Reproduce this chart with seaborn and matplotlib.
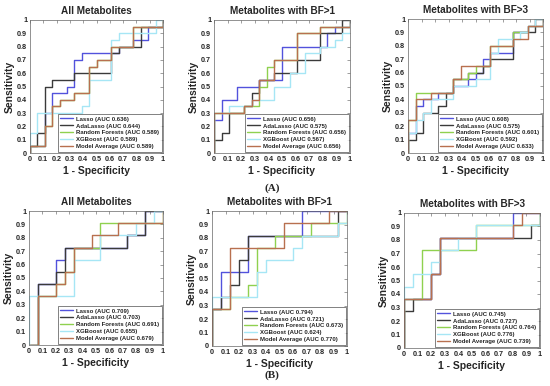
import matplotlib
matplotlib.use("Agg")
import matplotlib.pyplot as plt
import seaborn as sns
import pandas as pd

# Models, colours and panel text
MODELS = ["Lasso", "AdaLasso", "Random Forests", "XGBoost", "Model Average"]
COLORS = ["#5252dc", "#3a3a3a", "#8fd14f", "#a6e6f5", "#b8704f"]
TITLES = ["All Metabolites", "Metabolites with BF>1", "Metabolites with BF>3"]
TICKS = [0, 0.1, 0.2, 0.3, 0.4, 0.5, 0.6, 0.7, 0.8, 0.9, 1]
TICK_LABELS = ["0", "0.1", "0.2", "0.3", "0.4", "0.5", "0.6", "0.7", "0.8", "0.9", "1"]

# AUC values (legend)
AUC_A_ALL = [0.636, 0.644, 0.589, 0.589, 0.589]
AUC_A_BF1 = [0.656, 0.575, 0.656, 0.567, 0.656]
AUC_A_BF3 = [0.608, 0.575, 0.601, 0.592, 0.633]
AUC_B_ALL = [0.709, 0.703, 0.691, 0.655, 0.679]
AUC_B_BF1 = [0.794, 0.721, 0.673, 0.624, 0.770]
AUC_B_BF3 = [0.745, 0.727, 0.764, 0.776, 0.739]

# ROC corners (fpr, tpr): tpr rises to the value at that fpr, then runs right
# (A) All metabolites
A_ALL_LASSO = ([0, 0, 0.111, 0.167, 0.278, 0.333, 0.389, 0.667, 0.778, 0.889, 1],
               [0, 0.05, 0.3, 0.45, 0.5, 0.7, 0.75, 0.8, 0.85, 0.95, 1])
A_ALL_ADA = ([0, 0, 0.056, 0.111, 0.167, 0.333, 0.611, 0.667, 0.778, 0.833, 1],
             [0, 0.05, 0.15, 0.5, 0.55, 0.6, 0.75, 0.8, 0.8, 0.95, 1])
A_ALL_RF = ([0, 0, 0.111, 0.167, 0.222, 0.333, 0.444, 0.5, 0.611, 0.778, 1],
            [0, 0.05, 0.2, 0.35, 0.4, 0.45, 0.65, 0.7, 0.8, 0.95, 1])
A_ALL_XGB = ([0, 0, 0.056, 0.389, 0.444, 0.611, 0.667, 0.944, 1],
             [0, 0.15, 0.3, 0.35, 0.55, 0.85, 0.9, 1, 1])
A_ALL_AVG = ([0, 0, 0.111, 0.167, 0.222, 0.333, 0.444, 0.5, 0.611, 0.778, 1],
             [0, 0.05, 0.2, 0.35, 0.4, 0.45, 0.65, 0.7, 0.8, 0.95, 1])

# (A) BF>1
A_BF1_LASSO = ([0, 0, 0.056, 0.167, 0.333, 0.5, 0.833, 0.889, 1],
               [0, 0.25, 0.4, 0.5, 0.55, 0.8, 0.9, 0.95, 1])
A_BF1_ADA = ([0, 0, 0.056, 0.111, 0.222, 0.278, 0.333, 0.444, 0.611, 0.778, 0.944, 1],
             [0, 0.1, 0.15, 0.3, 0.35, 0.45, 0.55, 0.6, 0.7, 0.9, 1, 1])
A_BF1_RF = ([0, 0, 0.222, 0.333, 0.389, 0.444, 0.611, 0.778, 1],
            [0, 0.3, 0.35, 0.5, 0.65, 0.7, 0.9, 0.95, 1])
A_BF1_XGB = ([0, 0, 0.111, 0.278, 0.444, 0.556, 0.667, 0.778, 0.889, 0.944, 1],
             [0, 0.3, 0.35, 0.4, 0.5, 0.6, 0.75, 0.8, 0.85, 0.9, 1])
A_BF1_AVG = ([0, 0, 0.222, 0.278, 0.333, 0.444, 0.611, 0.778, 1],
             [0, 0.3, 0.35, 0.4, 0.55, 0.7, 0.9, 0.95, 1])

# (A) BF>3
A_BF3_LASSO = ([0, 0, 0.056, 0.111, 0.222, 0.333, 0.444, 0.5, 0.556, 0.611, 0.778, 0.889, 1],
               [0, 0.15, 0.35, 0.4, 0.45, 0.5, 0.55, 0.6, 0.7, 0.75, 0.9, 0.95, 1])
A_BF3_ADA = ([0, 0, 0.056, 0.111, 0.222, 0.278, 0.333, 0.444, 0.556, 0.611, 0.778, 0.944, 1],
             [0, 0.1, 0.15, 0.3, 0.35, 0.45, 0.55, 0.6, 0.65, 0.7, 0.9, 1, 1])
A_BF3_RF = ([0, 0, 0.056, 0.333, 0.444, 0.5, 0.611, 0.778, 0.889, 1],
            [0, 0.25, 0.45, 0.55, 0.6, 0.65, 0.8, 0.9, 0.95, 1])
A_BF3_XGB = ([0, 0, 0.056, 0.111, 0.167, 0.333, 0.5, 0.611, 0.667, 0.833, 0.889, 0.944, 1],
             [0, 0.15, 0.25, 0.3, 0.4, 0.5, 0.55, 0.75, 0.85, 0.9, 0.95, 1, 1])
A_BF3_AVG = ([0, 0, 0.056, 0.167, 0.333, 0.389, 0.611, 0.778, 0.889, 1],
             [0, 0.25, 0.4, 0.45, 0.55, 0.65, 0.8, 0.85, 0.95, 1])

# (B) All metabolites
B_ALL_LASSO = ([0, 0.067, 0.2, 0.267, 0.733, 0.867, 1],
               [0, 0.455, 0.636, 0.727, 0.818, 1, 1])
B_ALL_ADA = ([0, 0.067, 0.2, 0.267, 0.733, 0.867, 1],
             [0, 0.455, 0.545, 0.727, 0.818, 1, 1])
B_ALL_RF = ([0, 0.067, 0.2, 0.267, 0.333, 0.533, 1],
            [0, 0.364, 0.455, 0.545, 0.727, 0.909, 1])
B_ALL_XGB = ([0, 0, 0.333, 0.533, 0.8, 0.933, 1],
             [0, 0.364, 0.636, 0.818, 0.909, 1, 1])
B_ALL_AVG = ([0, 0.067, 0.2, 0.267, 0.333, 0.467, 0.667, 1],
             [0, 0.364, 0.455, 0.545, 0.727, 0.818, 0.909, 1])

# (B) BF>1
B_BF1_LASSO = ([0, 0, 0.067, 0.267, 0.667, 1],
               [0, 0.273, 0.545, 0.818, 1, 1])
B_BF1_ADA = ([0, 0, 0.067, 0.133, 0.2, 0.267, 0.933, 1],
             [0, 0.273, 0.364, 0.455, 0.636, 0.818, 1, 1])
B_BF1_RF = ([0, 0, 0.133, 0.267, 0.333, 0.467, 0.733, 1],
            [0, 0.273, 0.364, 0.455, 0.727, 0.818, 0.909, 1])
B_BF1_XGB = ([0, 0, 0.333, 0.4, 0.6, 0.667, 0.933, 1],
             [0, 0.364, 0.545, 0.636, 0.727, 0.818, 0.909, 1])
B_BF1_AVG = ([0, 0, 0.133, 0.533, 0.867, 1],
             [0, 0.273, 0.727, 0.909, 1, 1])

# (B) BF>3
B_BF3_LASSO = ([0, 0, 0.2, 0.267, 0.8, 1],
               [0, 0.364, 0.545, 0.818, 1, 1])
B_BF3_ADA = ([0, 0, 0.067, 0.2, 0.267, 0.933, 1],
             [0, 0.273, 0.364, 0.545, 0.818, 0.909, 1])
B_BF3_RF = ([0, 0, 0.133, 0.533, 1],
            [0, 0.364, 0.727, 0.909, 1])
B_BF3_XGB = ([0, 0, 0.067, 0.2, 0.267, 0.4, 0.533, 1],
             [0, 0.455, 0.545, 0.636, 0.727, 0.818, 0.909, 1])
B_BF3_AVG = ([0, 0, 0.2, 0.267, 0.8, 0.867, 1],
             [0, 0.364, 0.545, 0.818, 0.909, 1, 1])

PANELS = [
    ([A_ALL_LASSO, A_ALL_ADA, A_ALL_RF, A_ALL_XGB, A_ALL_AVG], AUC_A_ALL),
    ([A_BF1_LASSO, A_BF1_ADA, A_BF1_RF, A_BF1_XGB, A_BF1_AVG], AUC_A_BF1),
    ([A_BF3_LASSO, A_BF3_ADA, A_BF3_RF, A_BF3_XGB, A_BF3_AVG], AUC_A_BF3),
    ([B_ALL_LASSO, B_ALL_ADA, B_ALL_RF, B_ALL_XGB, B_ALL_AVG], AUC_B_ALL),
    ([B_BF1_LASSO, B_BF1_ADA, B_BF1_RF, B_BF1_XGB, B_BF1_AVG], AUC_B_BF1),
    ([B_BF3_LASSO, B_BF3_ADA, B_BF3_RF, B_BF3_XGB, B_BF3_AVG], AUC_B_BF3),
]

# axes boxes in pixels (left, top, right, bottom) on a 550x386 canvas
BOXES = [(30, 20, 163, 153), (214, 20, 350, 153), (408, 19, 543, 153),
         (29, 211, 163, 345), (212, 211, 347, 346), (404, 213, 540, 348)]


def draw_panel(ax, curves, aucs, title):
    labels = [f"{m} (AUC {a:.3f})" for m, a in zip(MODELS, aucs)]
    rows = []
    for label, (fpr, tpr) in zip(labels, curves):
        for x, y in zip(fpr, tpr):
            rows.append({"fpr": x, "tpr": y, "model": label})
    df = pd.DataFrame(rows)
    sns.lineplot(data=df, x="fpr", y="tpr", hue="model", hue_order=labels,
                 palette=COLORS, sort=False, estimator=None,
                 drawstyle="steps-post", linewidth=1.0, ax=ax)
    ax.set_xlim(0, 1)
    ax.set_ylim(0, 1)
    ax.set_xticks(TICKS)
    ax.set_xticklabels(TICK_LABELS)
    ax.set_yticks(TICKS)
    ax.set_yticklabels(TICK_LABELS)
    ax.tick_params(direction="in", top=True, right=True, length=2, width=0.4,
                   labelsize=5.2, pad=2, color="#555555")
    for lab in ax.get_xticklabels() + ax.get_yticklabels():
        lab.set_fontweight("bold")
    for sp in ax.spines.values():
        sp.set_linewidth(0.5)
        sp.set_color("#666666")
    ax.set_title(title, fontsize=7.2, fontweight="bold", pad=4)
    ax.set_xlabel("1 - Specificity", fontsize=7.5, fontweight="bold", labelpad=2)
    ax.set_ylabel("Sensitivity", fontsize=7.5, fontweight="bold", labelpad=2)
    leg = ax.legend(loc="lower right", prop={"size": 4.3, "weight": "bold"},
                    handlelength=2.2, frameon=True, fancybox=False,
                    borderpad=0.35, labelspacing=0.3, borderaxespad=0.25,
                    handletextpad=0.5)
    leg.get_frame().set_edgecolor("#222222")
    leg.get_frame().set_linewidth(0.5)


sns.set_theme(style="white")
plt.rcParams["font.family"] = ["Liberation Sans", "DejaVu Sans"]

fig = plt.figure(figsize=(5.5, 3.86), dpi=100)
W, H = 550, 386
for (curves, aucs), box, title in zip(PANELS, BOXES, TITLES * 2):
    l, t, r, b = box
    ax = fig.add_axes([l / W, 1 - b / H, (r - l) / W, (b - t) / H])
    draw_panel(ax, curves, aucs, title)

fig.text(272 / W, 1 - 188 / H, "(A)", ha="center", va="center", fontsize=8,
         fontweight="bold", family=["Liberation Serif", "DejaVu Serif"])
fig.text(272 / W, 1 - 375 / H, "(B)", ha="center", va="center", fontsize=8,
         fontweight="bold", family=["Liberation Serif", "DejaVu Serif"])

fig.savefig("out.png", dpi=100)
